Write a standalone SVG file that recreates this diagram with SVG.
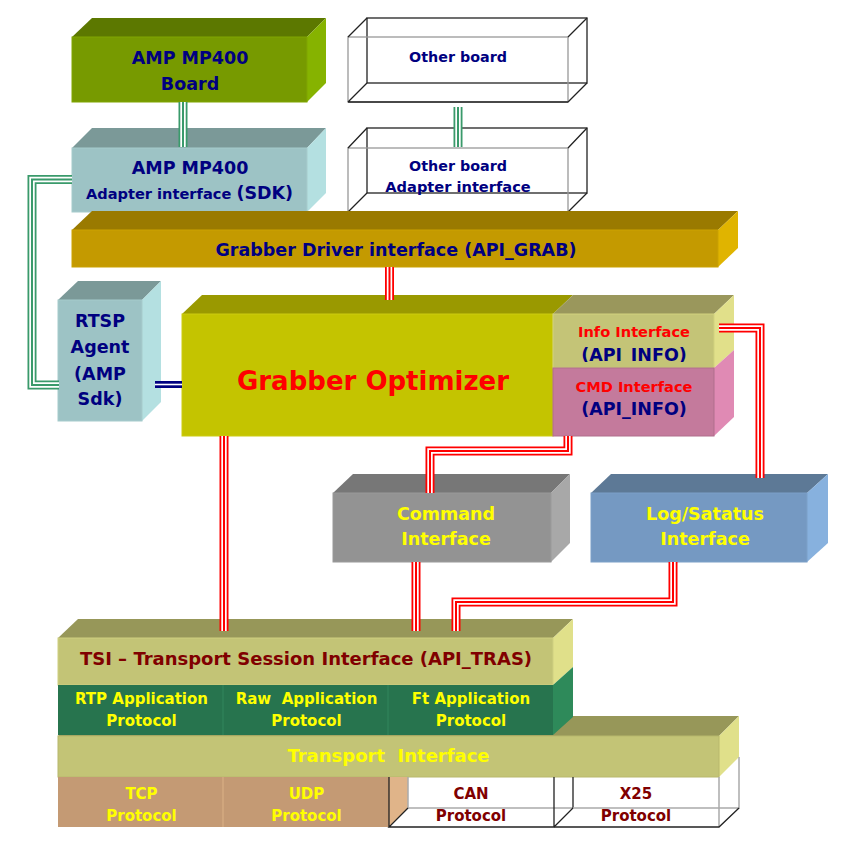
<svg xmlns="http://www.w3.org/2000/svg" width="855" height="855" viewBox="0 0 855 855">
<defs>
<style>
text{font-family:"DejaVu Sans","Liberation Sans",sans-serif;font-weight:bold;text-anchor:middle}
.nv{fill:#000080}
.rd{fill:#ff0000}
.yl{fill:#ffff00}
.dr{fill:#800000}
.pre{white-space:pre}
.c{fill:none;stroke-linejoin:miter;stroke-linecap:butt}
.ro{stroke:#ff0000;stroke-width:9}
.wm{stroke:#ffffff;stroke-width:5.4}
.ri{stroke:#ff0000;stroke-width:2}
.go{stroke:#3a9a6b;stroke-width:9}
.gi{stroke:#3a9a6b;stroke-width:2}
.no{stroke:#000080;stroke-width:7}
.nw{stroke:#ffffff;stroke-width:1.6}
.wb{fill:none;stroke:#222;stroke-width:1.3}
.wf{fill:none;stroke:#999;stroke-width:1.3}
</style>
<clipPath id="infoClip"><rect x="553" y="314" width="161" height="48"/></clipPath>
<path id="p1" d="M183,102 V147"/>
<path id="p2" d="M458,107 V147"/>
<path id="p3" d="M72,179.5 H32 V385 H59"/>
<path id="p4" d="M155,384.5 H182"/>
<path id="p5" d="M389.5,267 V300"/>
<path id="p6" d="M224,436 V631"/>
<path id="p7" d="M568,436 V451 H430 V493"/>
<path id="p8" d="M719,328 H760 V478"/>
<path id="p9" d="M416,562 V631"/>
<path id="p10" d="M673,562 V602 H456 V631"/>
</defs>
<rect width="855" height="855" fill="#ffffff"/>

<g id="amp-board">
<polygon points="72,37 92,18 326,18 307,37" fill="#5c7800"/>
<polygon points="307,37 326,18 326,83 307,102" fill="#86b300"/>
<rect x="72" y="37" width="235" height="65" fill="#779a00" stroke="#80a600" stroke-width="1"/>
<text x="190" y="64" class="nv" font-size="17.5">AMP MP400</text>
<text x="190" y="90" class="nv" font-size="17.5">Board</text>
</g>

<g id="other-board">
<rect x="367" y="18" width="220" height="65" class="wb"/>
<rect x="348" y="37" width="220" height="65" class="wf"/>
<path d="M348,37 L367,18 M568,37 L587,18 M568,102 L587,83 M348,102 L367,83 M348,102 H568" class="wb"/>
<text x="458" y="62" class="nv" font-size="14.3">Other board</text>
</g>

<g id="amp-adapter">
<polygon points="72,148 92,128 326,128 307,148" fill="#7b9998"/>
<polygon points="307,148 326,128 326,193 307,212" fill="#b4e0e1"/>
<rect x="72" y="148" width="235" height="64" fill="#9dc3c5" stroke="#a6cbcc" stroke-width="1"/>
<text x="190" y="174" class="nv" font-size="17.5">AMP MP400</text>
<text x="189.5" y="199" class="nv" font-size="14.6">Adapter interface <tspan font-size="17.5">(SDK)</tspan></text>
</g>

<g id="other-adapter">
<rect x="367" y="128" width="220" height="65" class="wb"/>
<rect x="348" y="148" width="220" height="64" class="wf"/>
<path d="M348,148 L367,128 M568,148 L587,128 M568,212 L587,193 M348,212 L367,193" class="wb"/>
<text x="458" y="171" class="nv" font-size="14.3">Other board</text>
<text x="458" y="192" class="nv" font-size="14.6">Adapter interface</text>
</g>

<g id="grabber-driver">
<polygon points="72,230 92,211 738,211 718,230" fill="#9a7a00"/>
<polygon points="718,230 738,211 738,248 718,267" fill="#e0b400"/>
<rect x="72" y="230" width="646" height="37" fill="#c49a00" stroke="#cba200" stroke-width="1"/>
<text x="396" y="256" class="nv" font-size="17.5">Grabber Driver interface (API_GRAB)</text>
</g>

<g id="rtsp-agent">
<polygon points="58,300 78,281 161,281 142,300" fill="#7b9998"/>
<polygon points="142,300 161,281 161,402 142,421" fill="#b4e0e1"/>
<rect x="58" y="300" width="84" height="121" fill="#9dc3c5" stroke="#a6cbcc" stroke-width="1"/>
<text x="100" y="327" class="nv" font-size="17.5">RTSP</text>
<text x="100" y="353" class="nv" font-size="17.5">Agent</text>
<text x="100" y="380" class="nv" font-size="17.5">(AMP</text>
<text x="100" y="405" class="nv" font-size="17.5">Sdk)</text>
</g>

<g id="grabber-optimizer">
<polygon points="182,314 202,295 573,295 553,314" fill="#9a9900"/>
<rect x="182" y="314" width="371" height="122" fill="#c4c400" stroke="#cccc10" stroke-width="1"/>
<text x="373" y="390" class="rd" font-size="26">Grabber Optimizer</text>
</g>

<g id="info-interface">
<polygon points="553,314 573,295 734,295 714,314" fill="#9a975c"/>
<polygon points="714,314 734,295 734,350 714,368" fill="#e1e08a"/>
<rect x="553" y="314" width="161" height="54" fill="#c4c477" stroke="#d2d27e" stroke-width="1"/>
<text x="634" y="337" class="rd" font-size="14.6">Info Interface</text>
<text x="634" y="361" class="nv" font-size="17.5" clip-path="url(#infoClip)">(API_INFO)</text>
</g>

<g id="cmd-interface">
<polygon points="714,368 734,350 734,417 714,436" fill="#e08ab4"/>
<rect x="553" y="368" width="161" height="68" fill="#c47a9c" stroke="#b06e8c" stroke-width="1"/>
<text x="634" y="392" class="rd" font-size="14.6">CMD Interface</text>
<text x="634" y="415" class="nv" font-size="17.5">(API_INFO)</text>
</g>

<g id="command-interface">
<polygon points="333,493 353,474 570,474 551,493" fill="#777777"/>
<polygon points="551,493 570,474 570,543 551,562" fill="#a8a8a8"/>
<rect x="333" y="493" width="218" height="69" fill="#939393" stroke="#9a9a9a" stroke-width="1"/>
<text x="446" y="520" class="yl" font-size="17.5">Command</text>
<text x="446" y="545" class="yl" font-size="17.5">Interface</text>
</g>

<g id="log-status-interface">
<polygon points="591,493 611,474 828,474 807,493" fill="#5d7996"/>
<polygon points="807,493 828,474 828,543 807,562" fill="#87b1de"/>
<rect x="591" y="493" width="216" height="69" fill="#7599c2" stroke="#7ca0c8" stroke-width="1"/>
<text x="705" y="520" class="yl" font-size="17.5">Log/Satatus</text>
<text x="705" y="545" class="yl" font-size="17.5">Interface</text>
</g>

<g id="transport-interface">
<polygon points="58,736 78,716 739,716 719,736" fill="#979759"/>
<polygon points="719,736 739,716 739,757 719,777" fill="#e0e08a"/>
<rect x="58" y="736" width="661" height="41" fill="#c3c476" stroke="#b8b86c" stroke-width="1"/>
<text x="388.5" y="762" class="yl pre" font-size="18">Transport  Interface</text>
</g>

<g id="tsi">
<polygon points="58,638 78,619 573,619 553,638" fill="#979759"/>
<polygon points="553,638 573,619 573,667 553,685" fill="#e0e08a"/>
<rect x="58" y="638" width="495" height="47" fill="#c3c476" stroke="#cfd080" stroke-width="1"/>
<text x="306" y="665" class="dr" font-size="18">TSI – Transport Session Interface (API_TRAS)</text>
</g>

<g id="app-protocols">
<polygon points="553,685 573,667 573,717 553,735" fill="#2e8a5a"/>
<rect x="58" y="685" width="495" height="50" fill="#27744e"/>
<path d="M223,685 V735 M388,685 V735" stroke="#2f8058" stroke-width="1.5"/>
</g>
<g id="rtp-app">
<text x="141.5" y="704" class="yl" font-size="15">RTP Application</text>
<text x="141.5" y="726" class="yl" font-size="15">Protocol</text>
</g>
<g id="raw-app">
<text x="306.5" y="704" class="yl pre" font-size="15">Raw  Application</text>
<text x="306.5" y="726" class="yl" font-size="15">Protocol</text>
</g>
<g id="ft-app">
<text x="471" y="704" class="yl" font-size="15">Ft Application</text>
<text x="471" y="726" class="yl" font-size="15">Protocol</text>
</g>

<g id="tcp">
<rect x="58" y="777" width="165" height="50" fill="#c49a74"/>
<text x="141.5" y="799" class="yl" font-size="15">TCP</text>
<text x="141.5" y="821" class="yl" font-size="15">Protocol</text>
</g>
<g id="udp">
<rect x="223" y="777" width="166" height="50" fill="#c49a74"/>
<line x1="223" y1="777" x2="223" y2="827" stroke="#d4aa80" stroke-width="1.5"/>
<text x="306.5" y="799" class="yl" font-size="15">UDP</text>
<text x="306.5" y="821" class="yl" font-size="15">Protocol</text>
</g>
<g id="can">
<polygon points="389,777 408,777 408,808 389,827" fill="#e0b489"/>
<path d="M408,777 V808 H573" fill="none" stroke="#aaa" stroke-width="1.5"/>
<path d="M408,808 L389,827 H554 M389,777 V827 M554,777 V827 M573,777 V808 L554,827" fill="none" stroke="#222" stroke-width="1.3"/>
<text x="471" y="799" class="dr" font-size="15">CAN</text>
<text x="471" y="821" class="dr" font-size="15">Protocol</text>
</g>
<g id="x25">
<path d="M573,808 H739 V757 M719,777 V827" fill="none" stroke="#aaa" stroke-width="1.5"/>
<path d="M554,827 H719 L739,808" fill="none" stroke="#222" stroke-width="1.3"/>
<text x="636" y="799" class="dr" font-size="15">X25</text>
<text x="636" y="821" class="dr" font-size="15">Protocol</text>
</g>

<g id="connectors">
<use href="#p1" class="c go"/><use href="#p1" class="c wm"/><use href="#p1" class="c gi"/>
<use href="#p2" class="c go"/><use href="#p2" class="c wm"/><use href="#p2" class="c gi"/>
<use href="#p3" class="c go"/><use href="#p3" class="c wm"/><use href="#p3" class="c gi"/>
<use href="#p4" class="c no"/><use href="#p4" class="c nw"/>
<use href="#p5" class="c ro"/><use href="#p5" class="c wm"/><use href="#p5" class="c ri"/>
<use href="#p6" class="c ro"/><use href="#p6" class="c wm"/><use href="#p6" class="c ri"/>
<use href="#p7" class="c ro"/><use href="#p7" class="c wm"/><use href="#p7" class="c ri"/>
<use href="#p8" class="c ro"/><use href="#p8" class="c wm"/><use href="#p8" class="c ri"/>
<use href="#p9" class="c ro"/><use href="#p9" class="c wm"/><use href="#p9" class="c ri"/>
<use href="#p10" class="c ro"/><use href="#p10" class="c wm"/><use href="#p10" class="c ri"/>
</g>
</svg>
